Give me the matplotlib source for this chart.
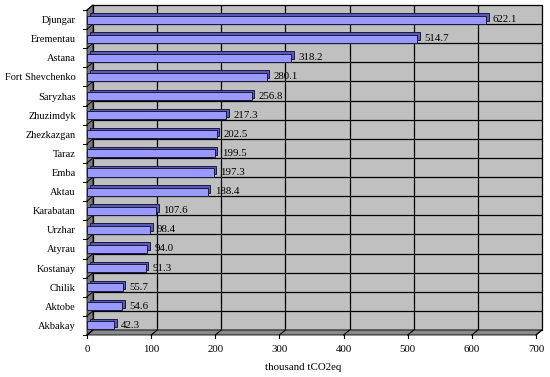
import matplotlib
matplotlib.use("Agg")
import matplotlib.pyplot as plt
import matplotlib.transforms as mtransforms
from matplotlib.patches import Polygon, Rectangle

cities = ["Djungar", "Erementau", "Astana", "Fort Shevchenko", "Saryzhas",
          "Zhuzimdyk", "Zhezkazgan", "Taraz", "Emba", "Aktau", "Karabatan",
          "Urzhar", "Atyrau", "Kostanay", "Chilik", "Aktobe", "Akbakay"]
emissions = [622.1, 514.7, 318.2, 280.1, 256.8, 217.3, 202.5, 199.5, 197.3,
             188.4, 107.6, 98.4, 94.0, 91.3, 55.7, 54.6, 42.3]
x_ticks = [0, 100, 200, 300, 400, 500, 600, 700]
x_label = "thousand tCO2eq"

plt.rcParams["font.family"] = ["Liberation Serif", "DejaVu Serif"]
FS = 7.8

W, H, DPI = 550, 377, 100
fig = plt.figure(figsize=(W / DPI, H / DPI), dpi=DPI)
fig.patch.set_facecolor("white")

# front plane of the plot, in pixels (from top-left)
x0, x1 = 87, 536
ytop, ybot = 10, 335
ax = fig.add_axes([x0 / W, 1 - ybot / H, (x1 - x0) / W, (ybot - ytop) / H])
ax.set_facecolor("none")
for s in ax.spines.values():
    s.set_visible(False)

n = len(cities)
ypos = list(range(n))
ax.set_xlim(0, 700)
ax.set_ylim(n - 0.5, -0.5)

# depth of the 3d box
dx, dy = 6, 5
back = ax.transData + mtransforms.ScaledTranslation(dx / DPI, dy / DPI, fig.dpi_scale_trans)

# back wall
ax.add_patch(Rectangle((0, -0.5), 700, n, transform=back, facecolor="#C0C0C0",
                       edgecolor="black", lw=0.9, zorder=0, clip_on=False))
ax.vlines(x_ticks[1:-1], -0.5, n - 0.5, transform=back, color="black", lw=0.9,
          zorder=0.5, clip_on=False)
ax.hlines([k + 0.5 for k in range(n - 1)], 0, 700, transform=back, color="black",
          lw=0.9, zorder=0.5, clip_on=False)

# left wall and floor (display coords)
fig.canvas.draw()
td = ax.transData.transform
def pts(p, shift=False):
    x, y = td(p)
    return (x + dx, y + dy) if shift else (x, y)

left_wall = [pts((0, -0.5)), pts((0, n - 0.5)), pts((0, n - 0.5), True), pts((0, -0.5), True)]
ax.add_patch(Polygon(left_wall, closed=True, transform=None, facecolor="#7A7A7A",
                     edgecolor="black", lw=0.6, zorder=0.6, clip_on=False))
floor = [pts((0, n - 0.5)), pts((700, n - 0.5)), pts((700, n - 0.5), True), pts((0, n - 0.5), True)]
ax.add_patch(Polygon(floor, closed=True, transform=None, facecolor="#8A8A8A",
                     edgecolor="black", lw=0.6, zorder=0.6, clip_on=False))
for t in x_ticks:
    a, b = pts((t, n - 0.5)), pts((t, n - 0.5), True)
    ax.plot([a[0], b[0]], [a[1], b[1]], transform=None, color="black", lw=0.8,
            zorder=0.7, clip_on=False)
    ax.plot([a[0], a[0]], [a[1], a[1] - 3], transform=None, color="black", lw=0.8,
            zorder=0.7, clip_on=False)
for k in range(n + 1):
    a, b = pts((0, k - 0.5)), pts((0, k - 0.5), True)
    ax.plot([a[0], b[0]], [a[1], b[1]], transform=None, color="black", lw=0.7,
            zorder=0.7, clip_on=False)
    ax.plot([a[0] - 4, a[0]], [a[1], a[1]], transform=None, color="black", lw=0.7,
            zorder=0.7, clip_on=False)

# bars: a darker copy behind gives the 3d cap
depth = ax.transData + mtransforms.ScaledTranslation(2.5 / DPI, 2.5 / DPI, fig.dpi_scale_trans)
ax.barh(ypos, emissions, height=0.42, color="#5A5AB4", edgecolor="#1A1A40",
        lw=0.7, transform=depth, zorder=2, clip_on=False)
ax.barh(ypos, emissions, height=0.42, color="#9999FF", edgecolor="#1A1A40",
        lw=0.7, zorder=3)

for y, v in zip(ypos, emissions):
    ax.annotate(f"{v:.1f}", (v, y), xytext=(5, 0), textcoords="offset points",
                va="center", ha="left", fontsize=FS, color="black", zorder=4)

ax.set_yticks(ypos)
ax.set_yticklabels(cities, fontsize=7.5)
ax.set_xticks(x_ticks)
ax.set_xticklabels([str(t) for t in x_ticks], fontsize=FS)
ax.tick_params(axis="both", length=0)
ax.tick_params(axis="y", pad=8)
ax.tick_params(axis="x", pad=7)
ax.set_xlabel(x_label, fontsize=FS, labelpad=6)
ax.xaxis.set_label_coords((303 - x0) / (x1 - x0), -0.085)

fig.savefig("out.png", dpi=DPI)
